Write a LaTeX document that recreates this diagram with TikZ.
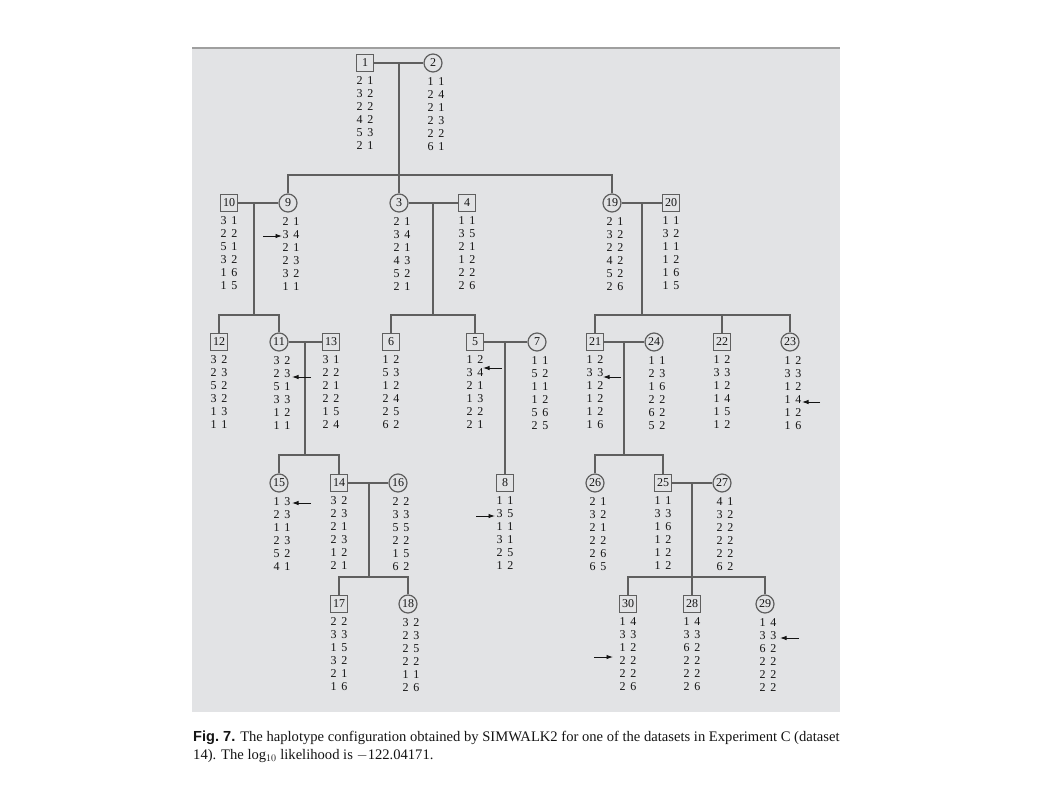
\documentclass[tikz,border=0pt]{standalone}
\usepackage{fontspec}
\setmainfont{Liberation Serif}
\setsansfont{Liberation Sans}
\usetikzlibrary{arrows.meta,positioning}
\definecolor{bggray}{RGB}{226,227,229}
\definecolor{linegray}{RGB}{95,95,95}
\definecolor{inkgray}{RGB}{20,20,20}
\newcommand{\genofont}{\fontsize{12}{13}\selectfont\spaceskip 5pt\relax}

\begin{document}
\begin{tikzpicture}[
  x=1pt, y=-1pt,
  every node/.style={text=inkgray},
  ind/.style={draw=linegray, line width=1.2pt, inner sep=0pt, fill=bggray,
              font=\fontsize{12}{13}\selectfont},
  male/.style={ind, rectangle, minimum size=17pt},
  female/.style={ind, circle, minimum size=18pt},
  geno/.style={align=center, inner sep=0pt, font=\genofont},
  line/.style={draw=linegray, line width=1.2pt},
  pointer/.style={draw=inkgray, line width=0.9pt, -{Latex[length=6.5pt,width=4.5pt]}},
]
\useasboundingbox (0,0) rectangle (1058,793);
\fill[bggray] (192,48) rectangle (840,712);
\draw[gray!75, line width=1.5pt] (192,48) -- (840,48);

% generation I
\node[male] (n1) at (365,63) {1};
\node[female] (n2) at (433,63) {2};
\coordinate (m12) at (399,63);
\coordinate (sib12) at (399,175);

% generation II
\node[male] (n10) at (229,203) {10};
\node[female] (n9) at (288,203) {9};
\node[female] (n3) at (399,203) {3};
\node[male] (n4) at (467,203) {4};
\node[female] (n19) at (612,203) {19};
\node[male] (n20) at (671,203) {20};
\coordinate (m109) at (254,203);
\coordinate (sib109) at (254,315);
\coordinate (m34) at (433,203);
\coordinate (sib34) at (433,315);
\coordinate (m1920) at (642,203);
\coordinate (sib1920) at (642,315);

% generation III
\node[male] (n12) at (219,342) {12};
\node[female] (n11) at (279,342) {11};
\node[male] (n13) at (331,342) {13};
\node[male] (n6) at (391,342) {6};
\node[male] (n5) at (475,342) {5};
\node[female] (n7) at (537,342) {7};
\node[male] (n21) at (595,342) {21};
\node[female] (n24) at (654,342) {24};
\node[male] (n22) at (722,342) {22};
\node[female] (n23) at (790,342) {23};
\coordinate (m1113) at (305,342);
\coordinate (sib1113) at (305,455);
\coordinate (m57) at (505,342);
\coordinate (m2124) at (624,342);
\coordinate (sib2124) at (624,455);

% generation IV
\node[female] (n15) at (279,483) {15};
\node[male] (n14) at (339,483) {14};
\node[female] (n16) at (398,483) {16};
\node[male] (n8) at (505,483) {8};
\node[female] (n26) at (595,483) {26};
\node[male] (n25) at (663,483) {25};
\node[female] (n27) at (722,483) {27};
\coordinate (m1416) at (369,483);
\coordinate (sib1416) at (369,577);
\coordinate (m2527) at (692,483);
\coordinate (sib2527) at (692,577);

% generation V
\node[male] (n17) at (339,604) {17};
\node[female] (n18) at (408,604) {18};
\node[male] (n30) at (628,604) {30};
\node[male] (n28) at (692,604) {28};
\node[female] (n29) at (765,604) {29};

% marriages and sibships
\draw[line] (n1) -- (n2);
\draw[line] (m12) -- (n3);
\draw[line] (n9) |- (sib12) -| (n19);
\draw[line] (n10) -- (n9);
\draw[line] (m109) -- (sib109);
\draw[line] (n12) |- (sib109) -| (n11);
\draw[line] (n3) -- (n4);
\draw[line] (m34) -- (sib34);
\draw[line] (n6) |- (sib34) -| (n5);
\draw[line] (n19) -- (n20);
\draw[line] (m1920) -- (sib1920);
\draw[line] (n21) |- (sib1920) -| (n23);
\draw[line] (n22) -- (n22 |- sib1920);
\draw[line] (n11) -- (n13);
\draw[line] (m1113) -- (sib1113);
\draw[line] (n15) |- (sib1113) -| (n14);
\draw[line] (n5) -- (n7);
\draw[line] (m57) -- (n8);
\draw[line] (n21) -- (n24);
\draw[line] (m2124) -- (sib2124);
\draw[line] (n26) |- (sib2124) -| (n25);
\draw[line] (n14) -- (n16);
\draw[line] (m1416) -- (sib1416);
\draw[line] (n17) |- (sib1416) -| (n18);
\draw[line] (n25) -- (n27);
\draw[line] (m2527) -- (n28);
\draw[line] (n30) |- (sib2527) -| (n29);

% haplotypes
\node[geno, below=4.5pt of n1] (g1) {2 1\\3 2\\2 2\\4 2\\5 3\\2 1};
\node[geno, below=4.5pt of n2, xshift=3pt] (g2) {1 1\\2 4\\2 1\\2 3\\2 2\\6 1};
\node[geno, below=4.5pt of n10] (g10) {3 1\\2 2\\5 1\\3 2\\1 6\\1 5};
\node[geno, below=4.5pt of n9, xshift=3pt] (g9) {2 1\\3 4\\2 1\\2 3\\3 2\\1 1};
\node[geno, below=4.5pt of n3, xshift=3pt] (g3) {2 1\\3 4\\2 1\\4 3\\5 2\\2 1};
\node[geno, below=4.5pt of n4] (g4) {1 1\\3 5\\2 1\\1 2\\2 2\\2 6};
\node[geno, below=4.5pt of n19, xshift=3pt] (g19) {2 1\\3 2\\2 2\\4 2\\5 2\\2 6};
\node[geno, below=4.5pt of n20] (g20) {1 1\\3 2\\1 1\\1 2\\1 6\\1 5};
\node[geno, below=4.5pt of n12] (g12) {3 2\\2 3\\5 2\\3 2\\1 3\\1 1};
\node[geno, below=4.5pt of n11, xshift=3pt] (g11) {3 2\\2 3\\5 1\\3 3\\1 2\\1 1};
\node[geno, below=4.5pt of n13] (g13) {3 1\\2 2\\2 1\\2 2\\1 5\\2 4};
\node[geno, below=4.5pt of n6] (g6) {1 2\\5 3\\1 2\\2 4\\2 5\\6 2};
\node[geno, below=4.5pt of n5] (g5) {1 2\\3 4\\2 1\\1 3\\2 2\\2 1};
\node[geno, below=4.5pt of n7, xshift=3pt] (g7) {1 1\\5 2\\1 1\\1 2\\5 6\\2 5};
\node[geno, below=4.5pt of n21] (g21) {1 2\\3 3\\1 2\\1 2\\1 2\\1 6};
\node[geno, below=4.5pt of n24, xshift=3pt] (g24) {1 1\\2 3\\1 6\\2 2\\6 2\\5 2};
\node[geno, below=4.5pt of n22] (g22) {1 2\\3 3\\1 2\\1 4\\1 5\\1 2};
\node[geno, below=4.5pt of n23, xshift=3pt] (g23) {1 2\\3 3\\1 2\\1 4\\1 2\\1 6};
\node[geno, below=4.5pt of n15, xshift=3pt] (g15) {1 3\\2 3\\1 1\\2 3\\5 2\\4 1};
\node[geno, below=4.5pt of n14] (g14) {3 2\\2 3\\2 1\\2 3\\1 2\\2 1};
\node[geno, below=4.5pt of n16, xshift=3pt] (g16) {2 2\\3 3\\5 5\\2 2\\1 5\\6 2};
\node[geno, below=4.5pt of n8] (g8) {1 1\\3 5\\1 1\\3 1\\2 5\\1 2};
\node[geno, below=4.5pt of n26, xshift=3pt] (g26) {2 1\\3 2\\2 1\\2 2\\2 6\\6 5};
\node[geno, below=4.5pt of n25] (g25) {1 1\\3 3\\1 6\\1 2\\1 2\\1 2};
\node[geno, below=4.5pt of n27, xshift=3pt] (g27) {4 1\\3 2\\2 2\\2 2\\2 2\\6 2};
\node[geno, below=4.5pt of n17] (g17) {2 2\\3 3\\1 5\\3 2\\2 1\\1 6};
\node[geno, below=4.5pt of n18, xshift=3pt] (g18) {3 2\\2 3\\2 5\\2 2\\1 1\\2 6};
\node[geno, below=4.5pt of n30] (g30) {1 4\\3 3\\1 2\\2 2\\2 2\\2 6};
\node[geno, below=4.5pt of n28] (g28) {1 4\\3 3\\6 2\\2 2\\2 2\\2 6};
\node[geno, below=4.5pt of n29, xshift=3pt] (g29) {1 4\\3 3\\6 2\\2 2\\2 2\\2 2};

% recombination pointers
\coordinate (t9) at (263,236);  \coordinate (h9) at (282,236);
\coordinate (t11) at (311,377); \coordinate (h11) at (292,377);
\coordinate (t5) at (502,368);  \coordinate (h5) at (483,368);
\coordinate (t15) at (311,503); \coordinate (h15) at (292,503);
\coordinate (t8) at (476,516);  \coordinate (h8) at (495,516);
\coordinate (t21) at (621,377); \coordinate (h21) at (603,377);
\coordinate (t23) at (820,402); \coordinate (h23) at (802,402);
\coordinate (t30) at (594,657); \coordinate (h30) at (613,657);
\coordinate (t29) at (799,638); \coordinate (h29) at (780,638);
\foreach \k in {9,11,5,15,8,21,23,30,29}
  \draw[pointer] (t\k) -- (h\k);

% caption
\node[anchor=base west, inner sep=0pt, font=\fontsize{14.6}{17}\selectfont] (cap1) at (193,741)
  {\textsf{\bfseries Fig.~7.} The haplotype configuration obtained by SIMWALK2 for one of the datasets in Experiment C (dataset};
\node[anchor=base west, inner sep=0pt, font=\fontsize{14.6}{17}\selectfont] (cap2) at (193,759)
  {14). The log$_{10}$ likelihood is $-$122.04171.};
\end{tikzpicture}
\end{document}
